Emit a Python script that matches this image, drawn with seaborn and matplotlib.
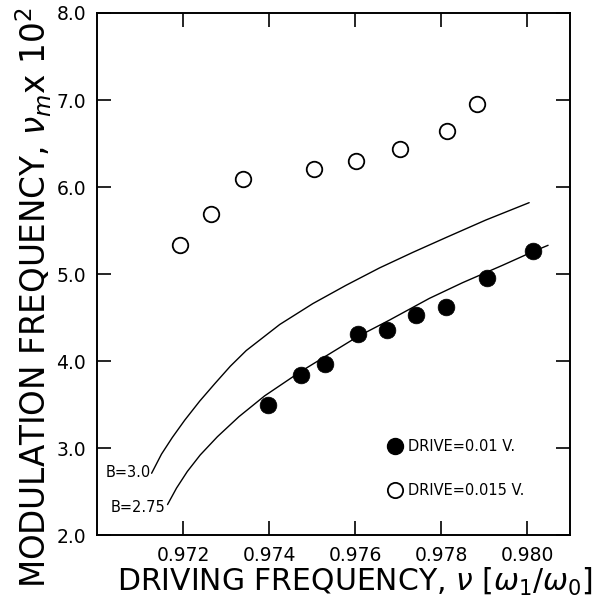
import numpy as np
import pandas as pd
import matplotlib
matplotlib.use("Agg")
import matplotlib.pyplot as plt
from matplotlib.lines import Line2D
import seaborn as sns

# Measured modulation frequency (x 10^2) vs driving frequency
drive_low_x = [0.97398, 0.97474, 0.97531, 0.97606, 0.97674, 0.97741, 0.97812, 0.97908, 0.98015]
drive_low_y = [3.49, 3.84, 3.97, 4.31, 4.36, 4.53, 4.62, 4.95, 5.26]

drive_high_x = [0.97194, 0.97265, 0.97339, 0.97504, 0.97603, 0.97704, 0.97814, 0.97883]
drive_high_y = [5.33, 5.69, 6.09, 6.21, 6.30, 6.44, 6.64, 6.95]

# Theoretical curves
b30_x = [0.97127, 0.97150, 0.97175, 0.97204, 0.97239, 0.97274, 0.97310, 0.97347,
         0.97425, 0.97502, 0.97579, 0.97657, 0.97735, 0.97812, 0.97904, 0.98005]
b30_y = [2.71, 2.93, 3.12, 3.32, 3.54, 3.74, 3.94, 4.12,
         4.42, 4.66, 4.87, 5.07, 5.25, 5.42, 5.62, 5.82]

b275_x = [0.97164, 0.97185, 0.97210, 0.97240, 0.97280, 0.97330, 0.97390, 0.97474,
          0.97540, 0.97606, 0.97680, 0.97773, 0.97850, 0.97943, 0.98015, 0.98049]
b275_y = [2.35, 2.54, 2.73, 2.92, 3.13, 3.36, 3.60, 3.88,
          4.08, 4.28, 4.47, 4.72, 4.90, 5.10, 5.26, 5.33]

x_ticks = [0.972, 0.974, 0.976, 0.978, 0.980]
x_tick_labels = ["0.972", "0.974", "0.976", "0.978", "0.980"]
y_ticks = [2.0, 3.0, 4.0, 5.0, 6.0, 7.0, 8.0]
y_tick_labels = ["2.0", "3.0", "4.0", "5.0", "6.0", "7.0", "8.0"]

sns.set_style("ticks")
plt.rcParams["font.family"] = ["DejaVu Sans"]
plt.rcParams["mathtext.fontset"] = "dejavusans"
plt.rcParams["text.color"] = "black"
plt.rcParams["axes.labelcolor"] = "black"

fig = plt.figure(figsize=(5.98, 6.13), dpi=100)
ax = fig.add_axes([0.1622, 0.1272, 0.7910, 0.8516])

curves = pd.concat([
    pd.DataFrame({"x": b30_x, "y": b30_y, "B": "3.0"}),
    pd.DataFrame({"x": b275_x, "y": b275_y, "B": "2.75"}),
])
sns.lineplot(data=curves, x="x", y="y", units="B", estimator=None, color="black",
             linewidth=1.0, ax=ax, legend=False)

pts_low = pd.DataFrame({"x": drive_low_x, "y": drive_low_y})
pts_high = pd.DataFrame({"x": drive_high_x, "y": drive_high_y})
sns.scatterplot(data=pts_low, x="x", y="y", s=145, color="black", edgecolor="black",
                linewidth=0.5, ax=ax, zorder=3)
sns.scatterplot(data=pts_high, x="x", y="y", s=125, facecolor="white", edgecolor="black",
                linewidth=1.3, ax=ax, zorder=3)

ax.set_xlim(0.970, 0.981)
ax.set_ylim(2.0, 8.0)
ax.set_xticks(x_ticks)
ax.set_xticklabels(x_tick_labels)
ax.set_yticks(y_ticks)
ax.set_yticklabels(y_tick_labels)
ax.tick_params(direction="in", length=10, width=1.2, top=True, right=True,
               labelsize=13.5, pad=8, colors="black")
for sp in ax.spines.values():
    sp.set_linewidth(1.4)
    sp.set_color("black")

ax.set_xlabel(r"DRIVING FREQUENCY, $\nu$ [$\omega_1/\omega_0$]", fontsize=21.5)
ax.set_ylabel(r"MODULATION FREQUENCY, $\nu_m$x 10$^2$", fontsize=23.5)
ax.xaxis.set_label_coords(0.545, -0.060)
ax.yaxis.set_label_coords(-0.09, 0.455)

# Curve labels
ax.text(0.97125, 2.72, "B=3.0", ha="right", va="center", fontsize=10.5)
ax.text(0.97160, 2.32, "B=2.75", ha="right", va="center", fontsize=10.5)

handles = [
    Line2D([], [], marker="o", linestyle="none", markersize=11.5, markerfacecolor="black",
           markeredgecolor="black"),
    Line2D([], [], marker="o", linestyle="none", markersize=11, markerfacecolor="white",
           markeredgecolor="black", markeredgewidth=1.3),
]
ax.legend(handles, ["DRIVE=0.01 V.", "DRIVE=0.015 V."], loc="center left",
          bbox_to_anchor=(0.6, 0.128), frameon=False, fontsize=10.5,
          handletextpad=0.35, labelspacing=2.0, handlelength=1.0, borderpad=0)

fig.savefig("out.png", dpi=100, facecolor="white")
